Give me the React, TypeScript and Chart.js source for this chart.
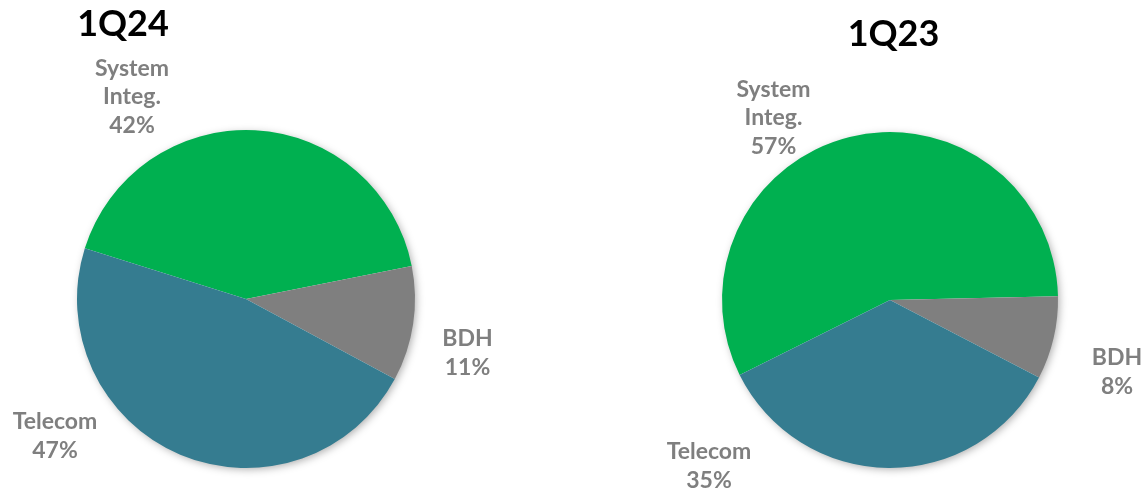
import React, { useEffect, useRef } from "react";
import { Chart, registerables } from "chart.js";

Chart.register(...registerables);

const categories = ["System Integ.", "BDH", "Telecom"];
const values1Q24 = [42, 11, 47];
const values1Q23 = [57, 8, 35];
const titles = ["1Q24", "1Q23"];
const sliceColors = ["#00B050", "#7F7F7F", "#357C90"];

const FONT = "Lato, 'Open Sans', 'Liberation Sans', sans-serif";

const pieLabelPlugin = {
  id: "pieLabels",
  beforeDatasetsDraw(chart: any) {
    const meta = chart.getDatasetMeta(0);
    const arc = meta.data[0];
    if (!arc) return;
    const { x, y, outerRadius } = arc.getProps(["x", "y", "outerRadius"], true);
    const ctx = chart.ctx;
    ctx.save();
    ctx.shadowColor = "rgba(0,0,0,0.35)";
    ctx.shadowBlur = 8;
    ctx.shadowOffsetX = 2;
    ctx.shadowOffsetY = 2;
    ctx.fillStyle = "#ffffff";
    ctx.beginPath();
    ctx.arc(x, y, outerRadius - 1, 0, Math.PI * 2);
    ctx.fill();
    ctx.restore();
  },
  afterDatasetsDraw(chart: any, _args: any, opts: any) {
    const meta = chart.getDatasetMeta(0);
    const arc = meta.data[0];
    if (!arc) return;
    const { x, y } = arc.getProps(["x", "y"], true);
    const ctx = chart.ctx;
    const labels: string[] = chart.data.labels;
    const data: number[] = chart.data.datasets[0].data;
    ctx.save();
    ctx.font = `bold 23px ${FONT}`;
    ctx.fillStyle = "#7F7F7F";
    ctx.textAlign = "center";
    ctx.textBaseline = "middle";
    const lh = 28.5;
    labels.forEach((lab, i) => {
      const off = opts.offsets[i];
      const lines = lab.split(" ").concat([`${data[i]}%`]);
      const cx = x + off[0];
      const cy = y + off[1];
      const top = cy - ((lines.length - 1) * lh) / 2;
      lines.forEach((ln, j) => ctx.fillText(ln, cx, top + j * lh));
    });
    ctx.restore();
  },
};

function PieChartSized(props: {
  w: number;
  values: number[];
  rotation: number;
  padding: { left: number; right: number; top: number; bottom: number };
  offsets: number[][];
}) {
  const ref = useRef<HTMLCanvasElement | null>(null);
  useEffect(() => {
    if (!ref.current) return;
    const chart = new Chart(ref.current, {
      type: "pie",
      data: {
        labels: categories,
        datasets: [
          {
            data: props.values,
            backgroundColor: sliceColors,
            borderWidth: 0,
          },
        ],
      },
      options: {
        animation: false,
        responsive: false,
        rotation: props.rotation,
        layout: { padding: props.padding },
        plugins: {
          legend: { display: false },
          tooltip: { enabled: false },
          title: { display: false },
          pieLabels: { offsets: props.offsets },
        } as any,
      },
      plugins: [pieLabelPlugin],
    });
    return () => chart.destroy();
  }, []);
  return (
    <canvas
      ref={ref}
      width={props.w}
      height={497}
      style={{ width: props.w, height: 497, display: "block" }}
    />
  );
}

export default function App() {
  useEffect(() => {
    document.body.style.margin = "0";
  }, []);
  const titleStyle = {
    position: "absolute" as const,
    transform: "translate(-50%, -50%)",
    font: `bold 36px ${FONT}`,
    color: "#000000",
    whiteSpace: "nowrap" as const,
    lineHeight: "44px",
  };
  return (
    <div
      style={{
        position: "absolute",
        left: 0,
        top: 0,
        width: 1145,
        height: 497,
        background: "#ffffff",
        overflow: "hidden",
      }}
    >
      <div style={{ position: "absolute", left: 0, top: 0, width: 560, height: 497 }}>
        <PieChartSized
          w={560}
          values={values1Q24}
          rotation={287.5}
          padding={{ left: 77, right: 145, top: 130, bottom: 29 }}
          offsets={[
            [-114, -202],
            [221.5, 54],
            [-191, 137],
          ]}
        />
      </div>
      <div style={{ position: "absolute", left: 560, top: 0, width: 585, height: 497 }}>
        <PieChartSized
          w={585}
          values={values1Q23}
          rotation={243.5}
          padding={{ left: 162, right: 87, top: 132, bottom: 29 }}
          offsets={[
            [-116.5, -182],
            [227, 72],
            [-181, 166],
          ]}
        />
      </div>
      <div style={{ ...titleStyle, left: 123, top: 21.5 }}>{titles[0]}</div>
      <div style={{ ...titleStyle, left: 893.5, top: 31.5 }}>{titles[1]}</div>
    </div>
  );
}
